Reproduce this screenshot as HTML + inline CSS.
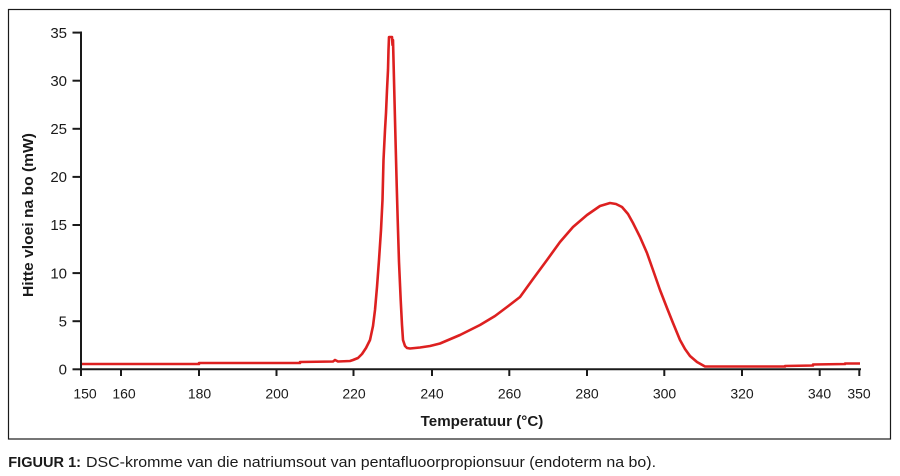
<!DOCTYPE html>
<html>
<head>
<meta charset="utf-8">
<style>
html,body{margin:0;padding:0;background:#fff;}
svg{display:block;}
text{font-family:"Liberation Sans",Arial,sans-serif;fill:#1a1a1a;}
</style>
</head>
<body>
<svg width="900" height="476" viewBox="0 0 900 476" xmlns="http://www.w3.org/2000/svg">
<rect x="0" y="0" width="900" height="476" fill="#fff"/>
<rect x="8.5" y="9.5" width="882" height="429.5" fill="none" stroke="#1a1a1a" stroke-width="1.2"/>

<!-- data curve -->
<polyline fill="none" stroke="#dd2020" stroke-width="2.6" stroke-linejoin="round" points="
81,364 199,364 199,363 300,363 300,362 333,361.5 335,360 338,361.5 350,361 353,360 358,358 362,354 366,348 370,340 373,326 375,310 377,287 379,260 381,230 382.5,200 383.5,160 385,130 386,113 387,90 388,70 388.5,50 389,37 392,37 392.5,45 393,40 393.5,60 394.5,100 395.7,147 396.7,185 397.7,220 399,262 400.7,300 402,325 403,340 405,346 407,348 410,348.5 420,347.5 430,346 440,343.5 460,335 480,325 495,316 507,307 520,297 533,279 547,260 560,242 573,227 587,215 600,206 610,203 616,204 622,207 628,214 633,223 640,237 647,253 653,270 660,290 667,308 673,323 680,340 685,349 690,356 697,362 705,366.5 785,366.5 785,366 813,365.5 813,364.5 845,364 845,363.5 860,363.5"/>

<!-- axes -->
<g stroke="#1a1a1a" stroke-width="2" fill="none">
<line x1="81" y1="31.5" x2="81" y2="370"/>
<line x1="80" y1="369.3" x2="861" y2="369.3"/>
<!-- y ticks -->
<line x1="72.5" y1="369.3" x2="81" y2="369.3"/>
<line x1="72.5" y1="321.2" x2="81" y2="321.2"/>
<line x1="72.5" y1="273.1" x2="81" y2="273.1"/>
<line x1="72.5" y1="225" x2="81" y2="225"/>
<line x1="72.5" y1="176.9" x2="81" y2="176.9"/>
<line x1="72.5" y1="128.8" x2="81" y2="128.8"/>
<line x1="72.5" y1="80.7" x2="81" y2="80.7"/>
<line x1="72.5" y1="32.6" x2="81" y2="32.6"/>
<!-- x ticks -->
<line x1="81" y1="369" x2="81" y2="376"/>
<line x1="121" y1="369" x2="121" y2="376"/>
<line x1="199" y1="369" x2="199" y2="376"/>
<line x1="276.5" y1="369" x2="276.5" y2="376"/>
<line x1="353.5" y1="369" x2="353.5" y2="376"/>
<line x1="432" y1="369" x2="432" y2="376"/>
<line x1="509.3" y1="369" x2="509.3" y2="376"/>
<line x1="587" y1="369" x2="587" y2="376"/>
<line x1="664.3" y1="369" x2="664.3" y2="376"/>
<line x1="742" y1="369" x2="742" y2="376"/>
<line x1="819.7" y1="369" x2="819.7" y2="376"/>
<line x1="859.3" y1="369" x2="859.3" y2="376"/>
</g>

<!-- y tick labels -->
<g font-size="15" text-anchor="end">
<text x="67" y="374.5">0</text>
<text x="67" y="326.4">5</text>
<text x="67" y="278.3">10</text>
<text x="67" y="230.2">15</text>
<text x="67" y="182.1">20</text>
<text x="67" y="134">25</text>
<text x="67" y="85.9">30</text>
<text x="67" y="37.8">35</text>
</g>

<!-- x tick labels -->
<g font-size="14" text-anchor="middle">
<text x="85" y="398.5">150</text>
<text x="124" y="398.5">160</text>
<text x="199.5" y="398.5">180</text>
<text x="277" y="398.5">200</text>
<text x="354" y="398.5">220</text>
<text x="432" y="398.5">240</text>
<text x="509.5" y="398.5">260</text>
<text x="587" y="398.5">280</text>
<text x="664.5" y="398.5">300</text>
<text x="742" y="398.5">320</text>
<text x="819.5" y="398.5">340</text>
<text x="859" y="398.5">350</text>
</g>

<!-- axis titles -->
<text x="420.7" y="426" font-size="14.5" font-weight="bold" textLength="122.6" lengthAdjust="spacingAndGlyphs">Temperatuur (°C)</text>
<text transform="translate(33,297) rotate(-90)" x="0" y="0" font-size="15" font-weight="bold" textLength="164" lengthAdjust="spacingAndGlyphs">Hitte vloei na bo (mW)</text>

<!-- caption -->
<text x="8.3" y="467" font-size="14.5" font-weight="bold" textLength="72.7" lengthAdjust="spacingAndGlyphs">FIGUUR 1:</text>
<text x="86" y="467" font-size="14.5" textLength="570" lengthAdjust="spacingAndGlyphs">DSC-kromme van die natriumsout van pentafluoorpropionsuur (endoterm na bo).</text>
</svg>
</body>
</html>
